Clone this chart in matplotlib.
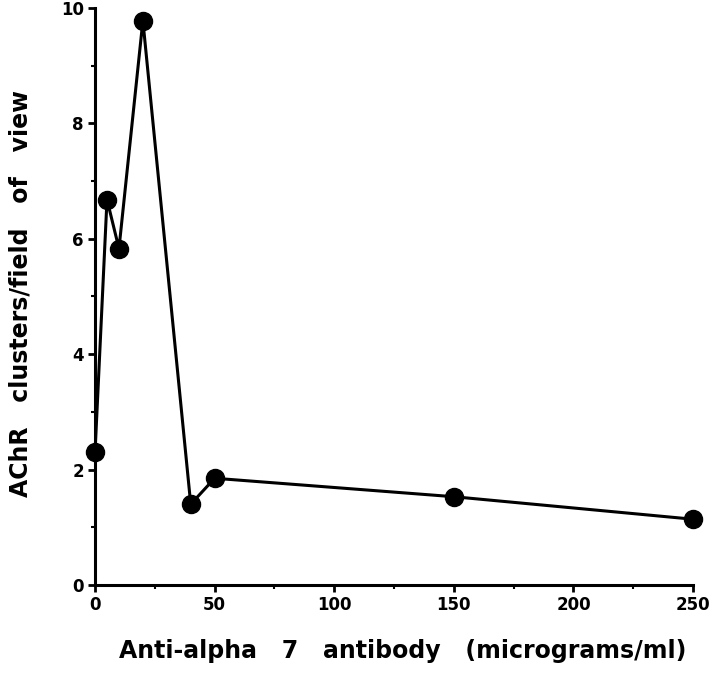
import numpy as np
import matplotlib
matplotlib.use("Agg")
import matplotlib.pyplot as plt
from matplotlib.ticker import MultipleLocator

# antibody concentration (micrograms/ml) and AChR clusters per field
conc = [0, 5, 10, 20, 40, 50, 150, 250]
clusters = [2.3, 6.68, 5.83, 9.78, 1.4, 1.85, 1.53, 1.14]

x_ticks = [0, 50, 100, 150, 200, 250]
y_ticks = [0, 2, 4, 6, 8, 10]

plt.rcParams['font.family'] = ['DejaVu Sans']
plt.rcParams['font.weight'] = 'bold'

fig = plt.figure(figsize=(7.2, 6.76), dpi=100)
ax = fig.add_axes([0.132, 0.1346, 0.8306, 0.8536])

ax.plot(conc, clusters, color='black', linewidth=2.2, marker='o',
        markersize=13, markerfacecolor='black', clip_on=False, zorder=3)

ax.set_xlim(0, 250)
ax.set_ylim(0, 10)
ax.set_xticks(x_ticks)
ax.set_yticks(y_ticks)
ax.xaxis.set_minor_locator(MultipleLocator(25))
ax.yaxis.set_minor_locator(MultipleLocator(1))

for s in ['top', 'right']:
    ax.spines[s].set_visible(False)
for s in ['left', 'bottom']:
    ax.spines[s].set_linewidth(2.2)

ax.tick_params(which='major', direction='out', length=5, width=2, labelsize=12, pad=3)
ax.tick_params(which='minor', direction='out', length=3, width=1.5)
for lab in ax.get_xticklabels() + ax.get_yticklabels():
    lab.set_fontweight('bold')

ax.set_xlabel('Anti-alpha   7   antibody   (micrograms/ml)', fontsize=17,
              fontweight='bold')
ax.set_ylabel('AChR   clusters/field   of   view', fontsize=17,
              fontweight='bold')
ax.xaxis.set_label_coords(0.5146, -0.093)
ax.yaxis.set_label_coords(-0.104, 0.505)

fig.savefig('out.png', dpi=100)
